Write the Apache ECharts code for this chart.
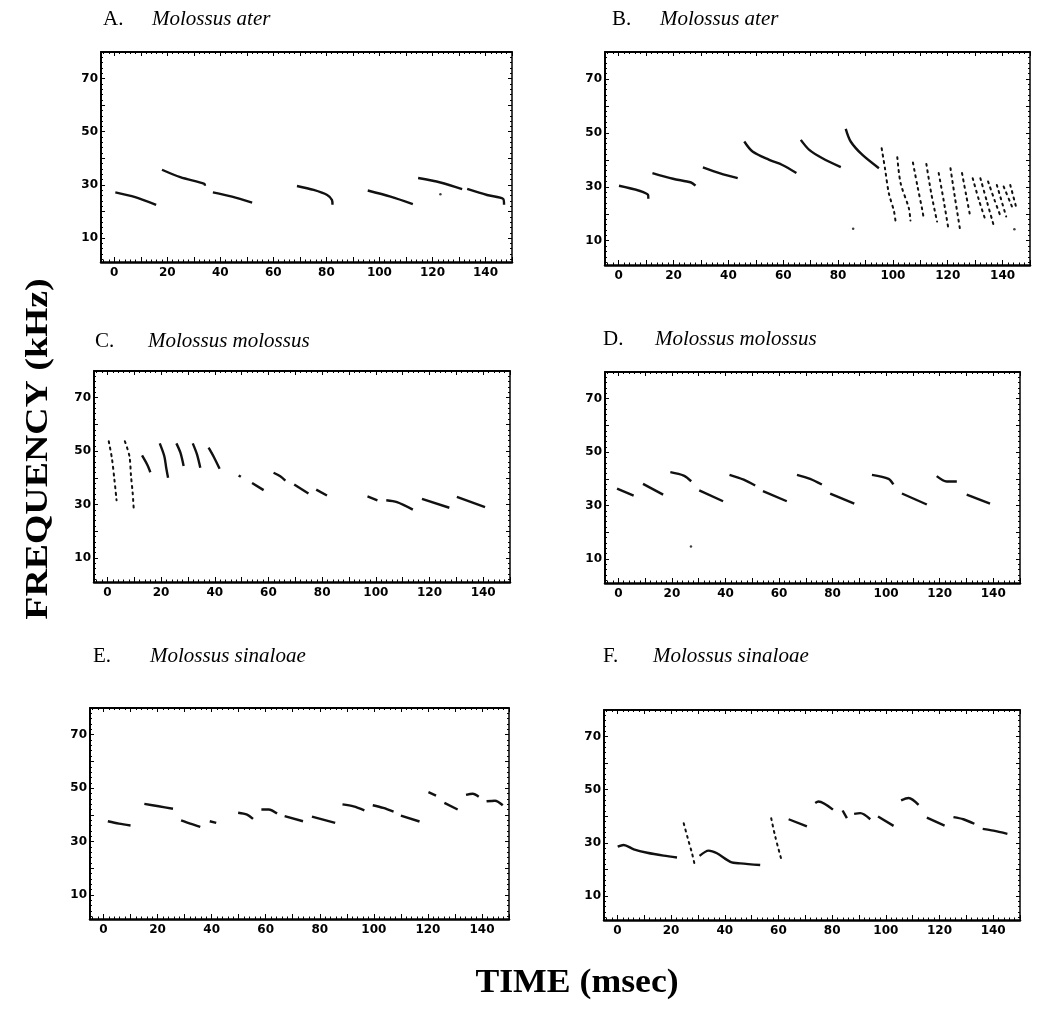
<!DOCTYPE html>
<html>
<head>
<meta charset="utf-8">
<script src="https://cdn.jsdelivr.net/npm/echarts@6/dist/echarts.min.js"></script>
<style>
  html, body { margin: 0; padding: 0; background: #fff; }
  #chart { width: 1041px; height: 1013px; }
</style>
</head>
<body>
<div id="chart"></div>
<script>
// tick labels
const xTickLabels = [0, 20, 40, 60, 80, 100, 120, 140];
const yTickLabels = [10, 30, 50, 70];

const panelLetters = ['A.', 'B.', 'C.', 'D.', 'E.', 'F.'];
const speciesNames = ['Molossus ater', 'Molossus ater', 'Molossus molossus',
  'Molossus molossus', 'Molossus sinaloae', 'Molossus sinaloae'];

// each sweep: [time msec, frequency kHz]
const sweepsA = [
  [[0.4, 27.2], [7.9, 25.4], [15.8, 22.5]],
  [[18, 35.7], [24.9, 32.9], [34, 30.4], [34.2, 29.7]],
  [[37.2, 27.2], [44.4, 25.6], [52, 23.3]],
  [[68.9, 29.6], [75.2, 28.1], [80.3, 26.2], [82.1, 24.3], [82.3, 22.5]],
  [[95.6, 27.9], [104.2, 25.6], [112.6, 22.8]],
  [[114.6, 32.6], [123, 30.9], [131.2, 28.4]],
  [[133.1, 28.5], [140.6, 26.2], [146.7, 24.7], [147, 22.5]]
];
const sparseA = [];
const dotsA = [[123, 26.5]];

const sweepsB = [
  [[0.1, 30.4], [10.7, 27], [10.8, 25.6]],
  [[12.3, 35.1], [19.8, 33], [26.4, 31.6], [28, 30.4]],
  [[30.7, 37.2], [37, 35], [43.4, 33.2]],
  [[45.8, 46.8], [48.8, 43.1], [54.9, 40], [59.7, 38.1], [64.8, 35.1]],
  [[66.4, 47.4], [69.5, 43.7], [74.3, 40.6], [81, 37.3]],
  [[82.8, 51.5], [84.6, 46.8], [88.8, 41.9], [94.9, 36.9]]
];
const sparseB = [
  [[95.9, 44.3], [97.1, 36.9], [98.5, 27.7], [100.4, 20.9], [101, 16.8]],
  [[101.6, 41], [102.8, 31.4], [105.8, 22.1], [106.4, 17.5]],
  [[107.3, 39], [109, 30], [110.7, 21.5], [111.3, 17.9]],
  [[112.2, 38.5], [114, 27.5], [116.1, 17.1]],
  [[116.7, 35.1], [118.5, 25], [120.1, 15.3]],
  [[121, 36.9], [122.7, 25.5], [124.4, 14.7]],
  [[125.2, 35.1], [126.7, 27], [128.2, 19]],
  [[129.1, 33.2], [131.4, 25], [133.7, 17.8]],
  [[131.9, 33.2], [134.3, 24.5], [136.7, 15.9]],
  [[134.7, 32], [137.1, 25], [139.5, 18.4]],
  [[137.9, 30.7], [141.3, 19]],
  [[140.4, 30.1], [143.4, 22.7]],
  [[142.8, 30.7], [145.2, 21.5]]
];
const dotsB = [[85.5, 14.4], [144.3, 14.3]];

const sweepsC = [
  [[12.9, 48.4], [14.8, 45], [16, 42.1]],
  [[19.5, 52.9], [21.2, 48.1], [21.9, 43.8], [22.6, 40]],
  [[25.7, 52.9], [27.2, 49.4], [28.4, 44.4]],
  [[31.8, 52.9], [33.4, 48.7], [34.6, 43.8]],
  [[37.7, 51.3], [39.6, 47.9], [41.8, 43.4]],
  [[48.9, 40.9], [49.7, 40.4]],
  [[53.9, 38.1], [58.2, 35.4]],
  [[61.9, 41.9], [64.4, 40.6], [66.3, 39]],
  [[69.6, 37.5], [74.9, 34.1]],
  [[77.8, 35.6], [81.8, 33.4]],
  [[96.9, 33.1], [100.6, 31.6]],
  [[103.9, 31.6], [107.9, 30.9], [113.8, 28.1]],
  [[117.2, 32.1], [127.4, 28.8]],
  [[130.2, 32.9], [140.7, 29]]
];
const sparseC = [
  [[0.5, 53.7], [1.7, 47.1], [2.6, 39.4], [3.4, 31.6]],
  [[6.5, 53.7], [8.2, 48.1], [8.8, 40.6], [9.4, 34.4], [9.8, 28.4]]
];
const dotsC = [];

const sweepsD = [
  [[-0.5, 36.3], [5.7, 33.7]],
  [[9.2, 38.1], [16.7, 34.1]],
  [[19.4, 42.5], [24.4, 41.2], [27.2, 39.1]],
  [[30.2, 35.7], [39.1, 31.6]],
  [[41.5, 41.5], [46.8, 39.7], [51.1, 37.5]],
  [[54, 35.4], [62.9, 31.6]],
  [[66.7, 41.5], [71.6, 40], [76, 37.9]],
  [[79.1, 34.5], [88.1, 30.7]],
  [[94.7, 41.5], [100.9, 40], [102.7, 37.9]],
  [[105.9, 34.5], [115.2, 30.4]],
  [[118.9, 41], [122.6, 39], [126.4, 39]],
  [[130.1, 34.1], [138.8, 30.7]]
];
const sparseD = [];
const dotsD = [[27.1, 14.7]];

const sweepsE = [
  [[1.6, 37.6], [5.7, 36.7], [10, 36]],
  [[15.1, 44.1], [20.4, 43.2], [25.7, 42.3]],
  [[28.7, 37.9], [32.1, 36.7], [35.8, 35.5]],
  [[39.3, 37.6], [41.7, 37]],
  [[49.8, 40.8], [53.1, 40.1], [55.3, 38.5]],
  [[58.4, 42], [61.1, 42], [64.2, 40.5]],
  [[67, 39.5], [73.8, 37.6]],
  [[77.1, 39.3], [85.7, 37]],
  [[88.4, 43.9], [92.5, 43.2], [96.5, 41.7]],
  [[99.6, 43.6], [103.5, 42.6], [107.3, 41.2]],
  [[110, 39.7], [116.9, 37.5]],
  [[120.2, 48.5], [123, 47.2]],
  [[126.1, 44.5], [131, 42]],
  [[134.1, 47.5], [136.6, 47.9], [138.8, 46.8]],
  [[141.7, 45.1], [144.8, 45.3], [147.7, 43.6]]
];
const sparseE = [];
const dotsE = [];

const sweepsF = [
  [[0.1, 28.6], [2.3, 29.2], [6.1, 27.6], [11.1, 26.3], [17.2, 25.2], [22.2, 24.5]],
  [[30.6, 25.1], [34, 27.1], [37.1, 26.1], [42.1, 22.9], [45.8, 22.3], [53.2, 21.7]],
  [[63.8, 38.9], [70.6, 36.2]],
  [[73.7, 45], [74.9, 45.6], [80.3, 42.5]],
  [[83.9, 42.2], [85.5, 39.3]],
  [[88.2, 40.9], [90.5, 41.2], [94.2, 38.9]],
  [[97.1, 39.9], [102.9, 36.4]],
  [[105.7, 46], [108.5, 46.9], [112.2, 44.3]],
  [[115.3, 39.5], [121.9, 36.5]],
  [[125.2, 39.7], [128.9, 38.9], [133, 37.2]],
  [[136.1, 35.3], [140.1, 34.6], [145.3, 33.4]]
];
const sparseF = [
  [[24.7, 37.4], [26.2, 31.8], [27.8, 26.1], [28.8, 21.7]],
  [[57.3, 39.3], [58.8, 32.4], [61.3, 22.9]]
];
const dotsF = [];

const panels = [
  [sweepsA, sparseA, dotsA],
  [sweepsB, sparseB, dotsB],
  [sweepsC, sparseC, dotsC],
  [sweepsD, sparseD, dotsD],
  [sweepsE, sparseE, dotsE],
  [sweepsF, sparseF, dotsF]
];

// box geometry and title anchors (ty = title top)
const layout = [
  { left: 101, top: 52, width: 411, height: 210, tx: 103, sx: 152, ty: 6 },
  { left: 605, top: 52, width: 425, height: 213, tx: 612, sx: 660, ty: 6 },
  { left: 94, top: 371, width: 416, height: 211, tx: 95, sx: 148, ty: 328 },
  { left: 605, top: 372, width: 415, height: 211, tx: 603, sx: 655, ty: 326 },
  { left: 90, top: 708, width: 419, height: 211, tx: 93, sx: 150, ty: 643 },
  { left: 604, top: 710, width: 416, height: 210, tx: 603, sx: 653, ty: 643 }
];

function steps(from, to, step) {
  const out = [];
  for (let v = from; v <= to + 1e-9; v += step) out.push(v);
  return out;
}
const xMajor = steps(0, 150, 10);
const xMinor = steps(-4, 150, 2);
const yMajor = steps(10, 80, 10);
const yMinor = steps(2, 80, 2);

const labelFont = { fontFamily: 'DejaVu Sans', fontWeight: 'bold', fontSize: 12, color: '#000' };

const grids = [], xAxes = [], yAxes = [], series = [], titles = [], graphics = [];

layout.forEach((g, i) => {
  grids.push({ left: g.left, top: g.top, width: g.width, height: g.height, show: false });
  const xBase = { type: 'value', gridIndex: i, min: -5, max: 150, splitLine: { show: false } };
  const yBase = { type: 'value', gridIndex: i, min: 1, max: 80, splitLine: { show: false } };
  const xi = xAxes.length, yi = yAxes.length;
  const hidden = { show: false, onZero: false };
  // bottom with labels
  xAxes.push(Object.assign({}, xBase, {
    position: 'bottom',
    axisLine: { show: true, onZero: false, lineStyle: { color: '#000', width: 2.5 } },
    axisTick: { show: true, inside: true, length: 5, customValues: xMajor, lineStyle: { color: '#000', width: 1 } },
    axisLabel: Object.assign({ show: true, margin: 5, customValues: xTickLabels }, labelFont)
  }));
  xAxes.push(Object.assign({}, xBase, {
    position: 'bottom',
    axisLine: hidden,
    axisTick: { show: true, inside: true, length: 2.5, customValues: xMinor, lineStyle: { color: '#000', width: 1 } },
    axisLabel: { show: false }
  }));
  xAxes.push(Object.assign({}, xBase, {
    position: 'top',
    axisLine: { show: true, onZero: false, lineStyle: { color: '#000', width: 2 } },
    axisTick: { show: true, inside: true, length: 4, customValues: xMajor, lineStyle: { color: '#000', width: 1 } },
    axisLabel: { show: false }
  }));
  xAxes.push(Object.assign({}, xBase, {
    position: 'top',
    axisLine: hidden,
    axisTick: { show: true, inside: true, length: 2, customValues: xMinor, lineStyle: { color: '#000', width: 1 } },
    axisLabel: { show: false }
  }));
  yAxes.push(Object.assign({}, yBase, {
    position: 'left',
    axisLine: { show: true, onZero: false, lineStyle: { color: '#000', width: 2 } },
    axisTick: { show: true, inside: true, length: 4, customValues: yMajor, lineStyle: { color: '#000', width: 1 } },
    axisLabel: Object.assign({ show: true, margin: 3, customValues: yTickLabels }, labelFont)
  }));
  yAxes.push(Object.assign({}, yBase, {
    position: 'left',
    axisLine: hidden,
    axisTick: { show: true, inside: true, length: 2, customValues: yMinor, lineStyle: { color: '#000', width: 1 } },
    axisLabel: { show: false }
  }));
  yAxes.push(Object.assign({}, yBase, {
    position: 'right',
    axisLine: { show: true, onZero: false, lineStyle: { color: '#000', width: 1.5 } },
    axisTick: { show: true, inside: true, length: 4, customValues: yMajor, lineStyle: { color: '#000', width: 1 } },
    axisLabel: { show: false }
  }));
  yAxes.push(Object.assign({}, yBase, {
    position: 'right',
    axisLine: hidden,
    axisTick: { show: true, inside: true, length: 2, customValues: yMinor, lineStyle: { color: '#000', width: 1 } },
    axisLabel: { show: false }
  }));

  const [dense, sparse, dots] = panels[i];
  dense.forEach(sw => series.push({
    type: 'line', xAxisIndex: xi, yAxisIndex: yi, data: sw,
    smooth: 0.3, symbol: 'none', silent: true,
    lineStyle: { color: '#111', width: 2.4 }
  }));
  sparse.forEach(sw => series.push({
    type: 'line', xAxisIndex: xi, yAxisIndex: yi, data: sw,
    smooth: 0.3, symbol: 'none', silent: true,
    lineStyle: { color: '#111', width: 2, type: [2, 4.5], cap: 'round' }
  }));
  if (dots.length) series.push({
    type: 'scatter', xAxisIndex: xi, yAxisIndex: yi, data: dots,
    symbolSize: 2.5, itemStyle: { color: '#111' }, silent: true
  });

  titles.push({
    left: g.tx, top: g.ty, padding: 0,
    text: '{l|' + panelLetters[i] + '}{s|' + speciesNames[i] + '}',
    textStyle: {
      fontWeight: 'normal',
      rich: {
        l: { fontFamily: 'Liberation Serif', fontWeight: 'normal', fontSize: 21, color: '#000',
          width: g.sx - g.tx, lineHeight: 26 },
        s: { fontFamily: 'Liberation Serif', fontWeight: 'normal', fontStyle: 'italic', fontSize: 21,
          color: '#000', lineHeight: 26 }
      }
    }
  });
});

graphics.push({
  type: 'text', x: 39, y: 449, rotation: Math.PI / 2, scaleX: 1.22,
  style: { text: 'FREQUENCY (kHz)', font: 'bold 31px "Liberation Serif"', fill: '#000',
    textAlign: 'center', textVerticalAlign: 'middle' }
});
graphics.push({
  type: 'text', x: 577, y: 983, scaleX: 1.05,
  style: { text: 'TIME (msec)', font: 'bold 34px "Liberation Serif"', fill: '#000',
    textAlign: 'center', textVerticalAlign: 'middle' }
});

const chart = echarts.init(document.getElementById('chart'));
chart.setOption({
  animation: false,
  backgroundColor: '#fff',
  title: titles,
  grid: grids,
  xAxis: xAxes,
  yAxis: yAxes,
  series: series,
  graphic: graphics
});
</script>
</body>
</html>
